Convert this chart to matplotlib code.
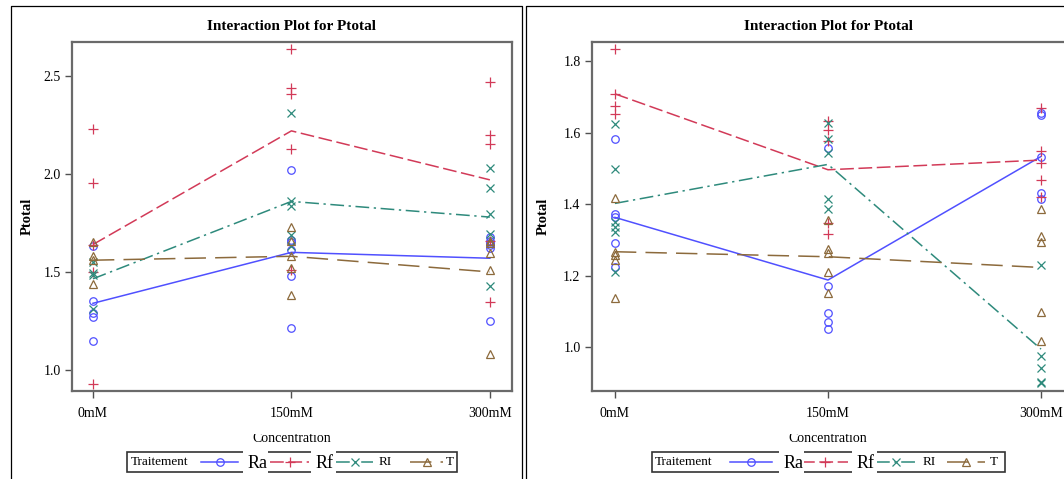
import matplotlib
matplotlib.use("Agg")
import matplotlib.pyplot as plt
from matplotlib.patches import Rectangle

plt.rcParams["font.family"] = ["Liberation Serif", "DejaVu Serif"]

W, H = 1064, 479

# concentration levels and treatment groups
conc_labels = ["0mM", "150mM", "300mM"]
treatments = ["Ra", "Rf", "RI", "T"]

# first run: observations per concentration level
a_ra_pts = [[1.63, 1.35, 1.29, 1.27, 1.15],
            [2.02, 1.665, 1.655, 1.61, 1.48, 1.215],
            [1.68, 1.66, 1.65, 1.64, 1.62, 1.25]]
a_rf_pts = [[2.23, 1.955, 1.64, 1.50, 0.93],
            [2.64, 2.44, 2.41, 2.13, 1.51],
            [2.47, 2.20, 2.155, 1.66, 1.345]]
a_ri_pts = [[1.55, 1.495, 1.485, 1.31],
            [2.31, 1.86, 1.835, 1.69, 1.635],
            [2.03, 1.93, 1.795, 1.695, 1.43]]
a_t_pts = [[1.655, 1.58, 1.56, 1.44],
           [1.73, 1.66, 1.58, 1.52, 1.38],
           [1.66, 1.65, 1.595, 1.512, 1.08]]
# first run: group means
a_ra_mean = [1.34, 1.60, 1.57]
a_rf_mean = [1.64, 2.22, 1.97]
a_ri_mean = [1.465, 1.86, 1.78]
a_t_mean = [1.56, 1.58, 1.50]

# second run: observations per concentration level
b_ra_pts = [[1.582, 1.372, 1.363, 1.291, 1.224],
            [1.556, 1.172, 1.095, 1.072, 1.051],
            [1.654, 1.649, 1.531, 1.432, 1.414]]
b_rf_pts = [[1.833, 1.708, 1.674, 1.651],
            [1.633, 1.607, 1.575, 1.347, 1.317],
            [1.668, 1.547, 1.514, 1.468, 1.421]]
b_ri_pts = [[1.623, 1.498, 1.351, 1.337, 1.323, 1.211],
            [1.626, 1.581, 1.542, 1.415, 1.386],
            [1.23, 0.976, 0.942, 0.904, 0.90]]
b_t_pts = [[1.416, 1.267, 1.258, 1.244, 1.137],
           [1.356, 1.274, 1.263, 1.211, 1.151],
           [1.386, 1.311, 1.295, 1.10, 1.019]]
# second run: group means
b_ra_mean = [1.363, 1.188, 1.533]
b_rf_mean = [1.708, 1.496, 1.523]
b_ri_mean = [1.402, 1.511, 0.995]
b_t_mean = [1.267, 1.253, 1.223]

a_yticks = [1.0, 1.5, 2.0, 2.5]
b_yticks = [1.0, 1.2, 1.4, 1.6, 1.8]

STYLE = {
    "Ra": dict(color="#5050ff", marker="o", ls="-", ms=5.4),
    "Rf": dict(color="#d23a58", marker="+", ls=(0, (9, 3)), ms=7.0),
    "RI": dict(color="#2e8a7c", marker="x", ls=(0, (9, 3, 1.5, 3)), ms=6.2),
    "T": dict(color="#8c6a3c", marker="^", ls=(0, (14, 6)), ms=5.4),
}


def px_rect(x0, y_top, x1, y_bot):
    return [x0 / W, 1 - y_bot / H, (x1 - x0) / W, (y_bot - y_top) / H]


def draw_panel(ax, pts, means, ylim, xlim, yticks):
    for name in treatments:
        st = STYLE[name]
        for i, vals in enumerate(pts[name]):
            ax.plot([i] * len(vals), vals, linestyle="none", marker=st["marker"],
                    mfc="none", mec=st["color"], ms=st["ms"], mew=0.9)
        ax.plot(range(len(conc_labels)), means[name], color=st["color"],
                ls=st["ls"], lw=1.1)
    ax.set_xlim(*xlim)
    ax.set_ylim(*ylim)
    ax.set_xticks(range(len(conc_labels)))
    ax.set_xticklabels(conc_labels)
    ax.set_yticks(yticks)
    ax.tick_params(axis="both", direction="out", length=5, width=1.0,
                   color="#505050", labelsize=10)
    ax.tick_params(axis="x", pad=6.5)
    ax.tick_params(axis="y", pad=3)
    for sp in ax.spines.values():
        sp.set_color("#6a6a6a")
        sp.set_linewidth(1.6)


def draw_key(ov, box, title_x, items):
    x0, y0, x1, y1 = box
    yc = (y0 + y1) / 2
    ov.add_patch(Rectangle((x0, y0), x1 - x0, y1 - y0, fill=False,
                           ec="#333333", lw=1.2))
    ov.text(title_x, yc, "Traitement", ha="left", va="center", fontsize=9.5)
    for name, (lx0, lx1, tx, big) in zip(treatments, items):
        st = STYLE[name]
        ov.plot([lx0, lx1], [yc, yc], color=st["color"], ls=st["ls"], lw=1.1)
        ov.plot([(lx0 + lx1) / 2], [yc], marker=st["marker"], mfc="none",
                mec=st["color"], ms=st["ms"], mew=0.9)
        if big:
            ov.add_patch(Rectangle((tx - 5, y0 - 3), 25, y1 - y0 + 6,
                                   fc="white", ec="none", zorder=3))
            ov.text(tx, yc + 1, name, ha="left", va="center", fontsize=13, zorder=4)
        else:
            ov.text(tx, yc, name, ha="left", va="center", fontsize=9.5)


fig = plt.figure(figsize=(W / 100, H / 100), dpi=100)

ax1 = fig.add_axes(px_rect(71.7, 42.3, 511.7, 390.7))
draw_panel(ax1,
           {"Ra": a_ra_pts, "Rf": a_rf_pts, "RI": a_ri_pts, "T": a_t_pts},
           {"Ra": a_ra_mean, "Rf": a_rf_mean, "RI": a_ri_mean, "T": a_t_mean},
           (0.894, 2.672), (-0.107, 2.11), a_yticks)

ax2 = fig.add_axes(px_rect(591.7, 42.3, 1065.5, 391))
draw_panel(ax2,
           {"Ra": b_ra_pts, "Rf": b_rf_pts, "RI": b_ri_pts, "T": b_t_pts},
           {"Ra": b_ra_mean, "Rf": b_rf_mean, "RI": b_ri_mean, "T": b_t_mean},
           (0.878, 1.852), (-0.109, 2.115), b_yticks)

# overlay in pixel units for frames, titles and keys
ov = fig.add_axes([0, 0, 1, 1], zorder=5)
ov.set_xlim(0, W)
ov.set_ylim(H, 0)
ov.axis("off")

ov.plot([10.5, 10.5, 521.5, 521.5], [H, 6, 6, H], color="black", lw=0.9)
ov.plot([526, 526, W], [H, 6, 6], color="black", lw=0.9)

for cx, ylx in [(291.7, 27), (828, 543)]:
    ov.text(cx, 26.5, "Interaction Plot for Ptotal", ha="center", va="center",
            fontsize=11, fontweight="bold")
    ov.text(ylx, 216, "Ptotal", ha="center", va="center", rotation=90,
            fontsize=10.5, fontweight="bold")
    ov.text(cx, 439, "Concentration", ha="center", va="center", fontsize=10,
            zorder=1)
    # the axis title is cut off along its top edge
    ov.add_patch(Rectangle((cx - 45, 424), 90, 9.5, fc="white", ec="none",
                           zorder=2))

draw_key(ov, (127, 452, 457, 472), 131,
         [(201, 238, 248, True), (270, 309, 316, True),
          (336, 373, 379, False), (410, 443, 446, False)])
draw_key(ov, (652, 452, 1005, 472), 655,
         [(730, 772, 784, True), (801, 848, 857, True),
          (876, 916, 923, False), (947, 985, 990, False)])

fig.savefig("out.png", dpi=100)
